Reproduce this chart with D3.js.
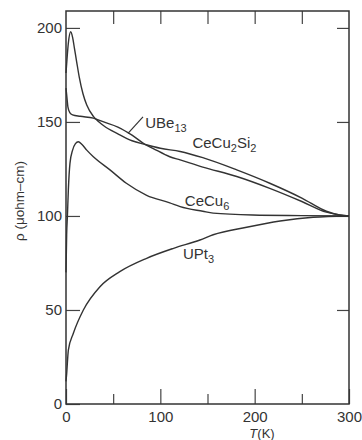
<!DOCTYPE html>
<html>
<head>
<meta charset="utf-8">
<script src="https://cdn.jsdelivr.net/npm/d3@7"></script>
<style>
  body { margin: 0; background: #fff; }
  text { font-family: "Liberation Sans", Arial, sans-serif; fill: #333; }
</style>
</head>
<body>
<svg id="chart" width="362" height="440"></svg>
<script>
// Resistivity vs temperature, each series as [T (K), rho] pairs.
let ube13 = [[0, 176], [1, 183], [2.5, 192], [5, 198], [7, 195], [9, 189],
  [11.3, 182], [14, 174], [18, 165], [22, 159], [29, 153], [35, 150],
  [40, 148], [55, 143.7], [70, 140], [84, 138], [100, 136], [121, 134.3],
  [145, 131], [181, 124.5], [216, 117.4], [250, 109.5], [276, 102.5],
  [290, 100.5], [300, 100]];
let cecu2si2 = [[0, 168], [1, 163], [2, 158], [4, 155], [7, 153.8], [15, 153],
  [29, 152], [40, 150], [55, 147.3], [70, 143], [84, 138], [92, 136],
  [110, 131.5], [121, 129.8], [145, 126], [181, 121], [216, 114.7],
  [250, 107.7], [276, 102], [290, 100.5], [300, 100]];
let cecu6 = [[0, 70], [0.7, 90], [1.5, 100], [2.5, 114], [4.2, 128], [7, 135],
  [10, 138.5], [13, 139.5], [17, 138], [22, 135], [29, 131.5], [46.6, 124.5],
  [64, 117.4], [85.5, 111], [110, 107], [121, 105], [145, 102.5], [156, 101.5],
  [198, 100.5], [250, 100.2], [300, 100]];
let upt3 = [[0, 12], [0.7, 16], [2.5, 28.7], [7.8, 37.6], [18.4, 50],
  [36, 62.4], [57, 70.4], [85.5, 77.5], [114, 82.8], [142, 87.2], [156, 90],
  [191.5, 94], [227, 97.3], [262, 99.3], [300, 100]];

let seriesList = [ube13, cecu2si2, cecu6, upt3];

// Tick values.
let xMajorTicks = [0, 100, 200, 300];
let xMinorTicks = [50, 150, 250];
let xTopTicks = [50, 100, 150, 200, 250];
let yTicks = [0, 50, 100, 150, 200];

// Curve labels: [text, isSubscript] pieces, anchor in data units.
let curveLabels = [
  {parts: [['UBe', false], ['13', true]], t: 84, rho: 147},
  {parts: [['CeCu', false], ['2', true], ['Si', false], ['2', true]], t: 134, rho: 136},
  {parts: [['CeCu', false], ['6', true]], t: 126, rho: 105.5},
  {parts: [['UPt', false], ['3', true]], t: 124, rho: 77}
];
// Leader line from the UBe13 label to its curve.
let ube13Leader = [[81.6, 152.7], [65.7, 143.9]];

let svg = d3.select('#chart');
let x = d3.scaleLinear().domain([0, 300]).range([66, 349]);
let y = d3.scaleLinear().domain([0, 209]).range([404, 11]);

function styleAxis(g) {
  g.select('.domain').remove();
  g.selectAll('line').attr('stroke', '#444').attr('stroke-width', 1.2);
  g.selectAll('text')
      .style('font-size', '15px')
      .attr('fill', '#333');
}

// Bottom axis: labelled major ticks and shorter minor ticks, pointing inward.
svg.append('g')
    .attr('transform', 'translate(0,404)')
    .call(d3.axisBottom(x).tickValues(xMajorTicks).tickSize(-15).tickPadding(7)
        .tickFormat(d3.format('d')))
    .call(styleAxis);
svg.append('g')
    .attr('transform', 'translate(0,404)')
    .call(d3.axisBottom(x).tickValues(xMinorTicks).tickSize(-10).tickFormat(''))
    .call(styleAxis);
// Top ticks.
svg.append('g')
    .attr('transform', 'translate(0,11)')
    .call(d3.axisTop(x).tickValues(xTopTicks).tickSize(-13).tickFormat(''))
    .call(styleAxis);
// Left axis with labels.
svg.append('g')
    .attr('transform', 'translate(66,0)')
    .call(d3.axisLeft(y).tickValues(yTicks).tickSize(-14).tickPadding(4)
        .tickFormat(d3.format('d')))
    .call(styleAxis);
// Right ticks.
svg.append('g')
    .attr('transform', 'translate(349,0)')
    .call(d3.axisRight(y).tickValues(yTicks.slice(1)).tickSize(-12).tickFormat(''))
    .call(styleAxis);

// Frame.
svg.append('rect')
    .attr('x', x(0))
    .attr('y', y(209))
    .attr('width', x(300) - x(0))
    .attr('height', y(0) - y(209))
    .attr('fill', 'none')
    .attr('stroke', '#333')
    .attr('stroke-width', 1.5);

let line = d3.line()
    .x(d => x(d[0]))
    .y(d => y(d[1]))
    .curve(d3.curveMonotoneX);

svg.selectAll('path.curve')
    .data(seriesList)
    .join('path')
    .attr('class', 'curve')
    .attr('d', line)
    .attr('fill', 'none')
    .attr('stroke', '#333')
    .attr('stroke-width', 1.4);

svg.append('path')
    .attr('d', d3.line().x(d => x(d[0])).y(d => y(d[1]))(ube13Leader))
    .attr('fill', 'none')
    .attr('stroke', '#333')
    .attr('stroke-width', 1.2);

// Curve labels with subscripts.
curveLabels.forEach(lab => {
  let txt = svg.append('text')
      .attr('x', x(lab.t))
      .attr('y', y(lab.rho))
      .style('font-size', '15px');
  lab.parts.forEach((p, i) => {
    let prevSub = i > 0 && lab.parts[i - 1][1];
    let dy = 0;
    if (p[1] && !prevSub) dy = 4;
    if (!p[1] && prevSub) dy = -4;
    txt.append('tspan')
        .text(p[0])
        .style('font-size', p[1] ? '11px' : '15px')
        .attr('dy', dy);
  });
});

// Axis titles.
let xTitle = svg.append('text')
    .attr('x', 262)
    .attr('y', 438)
    .attr('text-anchor', 'middle')
    .style('font-size', '13px');
xTitle.append('tspan').text('T').style('font-style', 'italic');
xTitle.append('tspan').text('(K)');

svg.append('text')
    .attr('transform', 'translate(24,201) rotate(-90)')
    .attr('text-anchor', 'middle')
    .style('font-size', '13.5px')
    .text('\u03c1 (\u03bcohm\u2013cm)');
</script>
</body>
</html>
